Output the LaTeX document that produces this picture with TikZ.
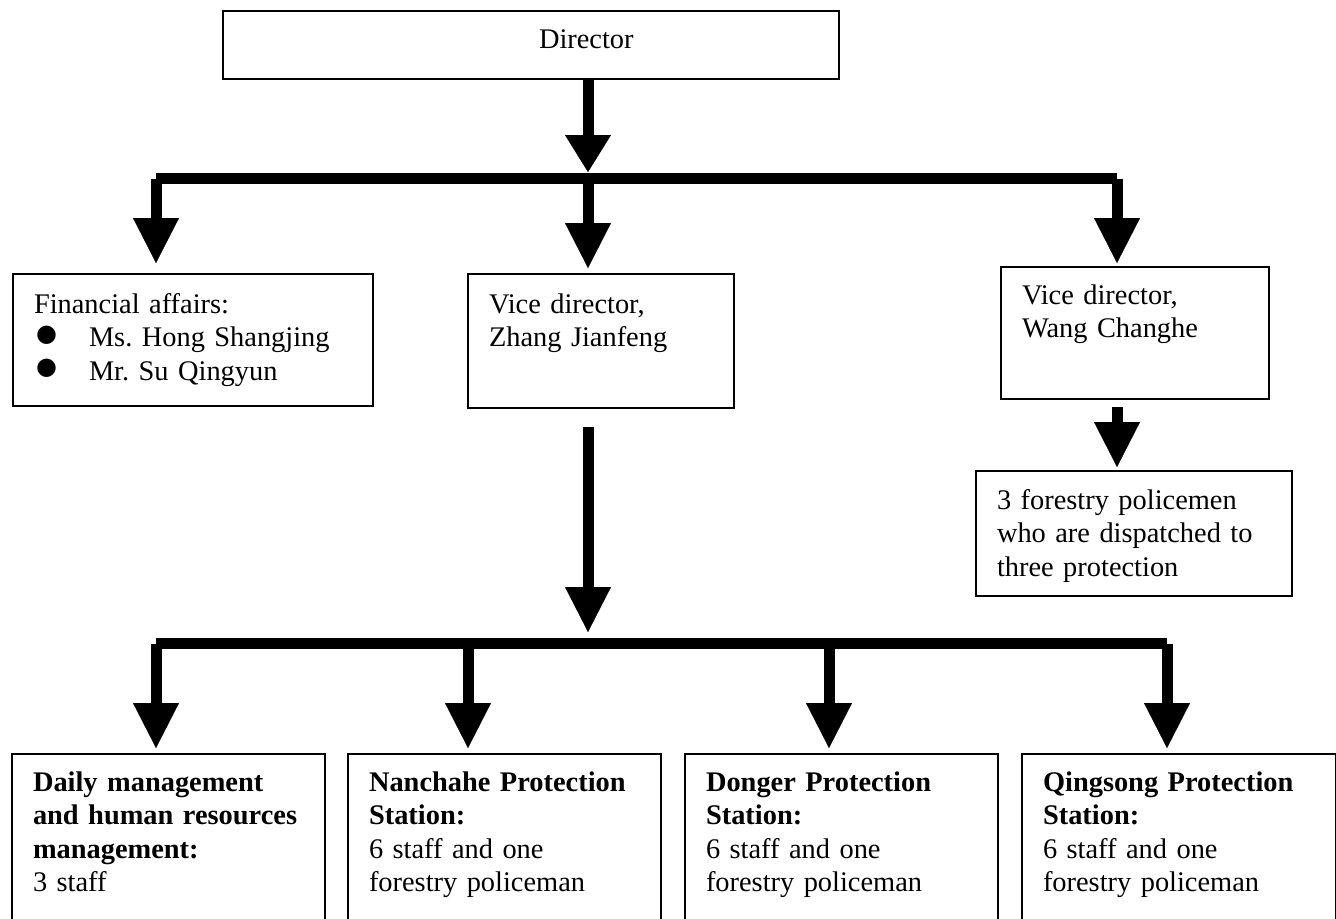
\documentclass[tikz,border=0pt]{standalone}
\usepackage{fontspec}
\setmainfont{Liberation Serif}
\newfontfamily\bulletfont{DejaVu Sans}
\usetikzlibrary{arrows.meta}

\tikzset{
  orgbox/.style={draw, line width=1pt, anchor=north west, align=left,
    inner xsep=10.5pt, inner ysep=0pt, font=\fontsize{14.2}{16.8}\selectfont\frenchspacing},
  hbar/.style={line width=5.5pt},
  bigarrow/.style={line width=5.5pt,
    -{Triangle[width=23pt,length=#1,line width=0.1pt]}},
  bigarrow/.default=22.5pt
}
\newcommand{\dotline}[1]{\hspace*{1pt}\makebox[26.5pt][l]{\raisebox{2.75pt}{\bulletfont\fontsize{12}{12}\selectfont ●}}#1}

\begin{document}
\begin{tikzpicture}[x=0.5pt,y=-0.5pt]
        \useasboundingbox (0,0) rectangle (1336,918);

        \node[orgbox, text width=287pt, text height=18.5pt, text depth=15.5pt]
          (dir) at (222,10) {\hspace*{147.5pt}Director};

        \node[orgbox, text width=159pt, text height=19.5pt, text depth=46.5pt]
          (fin) at (12,273) {Financial affairs:\\
          \dotline{Ms. Hong Shangjing}\\
          \dotline{Mr. Su Qingyun}};
        \node[orgbox, text width=112pt, text height=19.5pt, text depth=47.5pt]
          (zhang) at (467,273) {Vice director,\\Zhang Jianfeng};
        \node[orgbox, text width=113pt, text height=18.5pt, text depth=47.5pt]
          (wang) at (1000,266) {Vice director,\\Wang Changhe};
        \node[orgbox, text width=137pt, text height=19pt, text depth=43.5pt]
          (police) at (975,470) {3 forestry policemen\\who are dispatched to\\three protection};

        \node[orgbox, text width=135.5pt, text height=18.5pt, text depth=67.5pt]
          (daily) at (11,753) {\textbf{Daily management}\\\textbf{and human resources}\\\textbf{management:}\\3 staff};
        \node[orgbox, text width=135.5pt, text height=18.5pt, text depth=67.5pt]
          (nanchahe) at (347,753) {\textbf{Nanchahe Protection}\\\textbf{Station:}\\6 staff and one\\forestry policeman};
        \node[orgbox, text width=135.5pt, text height=18.5pt, text depth=67.5pt]
          (donger) at (684,753) {\textbf{Donger Protection}\\\textbf{Station:}\\6 staff and one\\forestry policeman};
        \node[orgbox, text width=136pt, text height=18.5pt, text depth=67.5pt]
          (qingsong) at (1021,753) {\textbf{Qingsong Protection}\\\textbf{Station:}\\6 staff and one\\forestry policeman};

        \coordinate (tl) at (156,178.5);
        \coordinate (tm) at (588,178.5);
        \coordinate (tr) at (1117,178.5);
        \coordinate (bl) at (156,643.5);
        \coordinate (bm) at (588,643.5);
        \coordinate (b2) at (468,643.5);
        \coordinate (b3) at (829,643.5);
        \coordinate (br) at (1167,643.5);

        \draw[bigarrow=18.5pt, shorten >=3.25pt] (dir.south -| tm) -- (tm);
        \draw[hbar] (tl) -- (tr);
        \draw[bigarrow, shorten >=5pt] (tl) -- (fin.north -| tl);
        \draw[bigarrow, shorten >=2.5pt] (tm) -- (zhang.north -| tm);
        \draw[bigarrow, shorten >=1.5pt] (tr) -- (wang.north -| tr);

        \draw[bigarrow, shorten <=3.5pt, shorten >=1.5pt] (wang.south -| tr) -- (police.north -| tr);
        \draw[bigarrow, shorten <=9pt, shorten >=5.75pt] (zhang.south -| tm) -- (bm);

        \draw[hbar] (bl) -- (br);
        \draw[bigarrow, shorten >=2.5pt] (bl) -- (daily.north -| bl);
        \draw[bigarrow, shorten >=2.5pt] (b2) -- (nanchahe.north -| b2);
        \draw[bigarrow, shorten >=2.5pt] (b3) -- (donger.north -| b3);
        \draw[bigarrow, shorten >=2.5pt] (br) -- (qingsong.north -| br);
      \end{tikzpicture}
\end{document}
